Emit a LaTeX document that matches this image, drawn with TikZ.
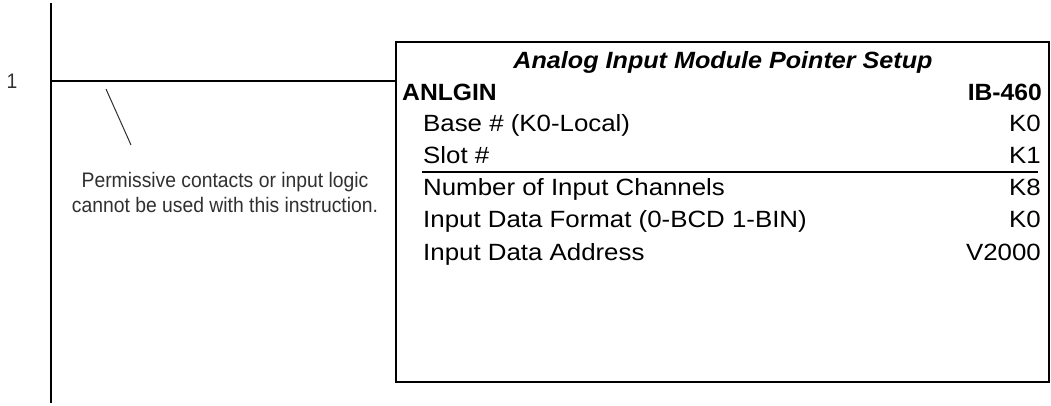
\documentclass[tikz,border=0pt]{standalone}
\usepackage{fontspec}
\setmainfont{Liberation Sans}
\newfontfamily\boxfont[FakeStretch=1.1]{Liberation Sans}
\newfontfamily\boldboxfont[FakeStretch=1.05]{Liberation Sans}
\newfontfamily\titlefont[FakeStretch=1.07]{Liberation Sans}
\newfontfamily\notefont[FakeStretch=0.92]{Liberation Sans}
\definecolor{notegray}{HTML}{303030}
\begin{document}
\begin{tikzpicture}[x=1pt,y=-1pt,
  rail/.style={line width=2pt, black},
  rowtext/.style={anchor=base west, inner sep=0pt, font=\boxfont\fontsize{23.5}{28}\selectfont},
  valtext/.style={anchor=base east, inner sep=0pt, font=\boxfont\fontsize{23.5}{28}\selectfont},
  headtext/.style={inner sep=0pt, font=\boldboxfont\bfseries\fontsize{23.5}{28}\selectfont},
  notetext/.style={inner sep=0pt, align=center, text=notegray, font=\notefont\fontsize{21}{25}\selectfont}]
\useasboundingbox (0,0) rectangle (1051,405);
% power rail
\coordinate (railtop) at (51,3);
\coordinate (railbot) at (51,403);
\draw[rail] (railtop) -- (railbot);
\node[inner sep=0pt, font=\notefont\fontsize{21}{25}\selectfont, text=notegray] (rungnum) at (12,81) {1};
% instruction box
\node[draw, line width=2pt, minimum width=653pt, minimum height=340pt, anchor=north west, inner sep=0pt] (box) at (395,41) {};
\coordinate (rungstart) at (51,81);
\draw[rail] (rungstart) -- (rungstart -| box.west);
% texts in box
\node[anchor=base, inner sep=0pt, font=\titlefont\bfseries\itshape\fontsize{23.5}{28}\selectfont] (title) at (723,68) {Analog Input Module Pointer Setup};
\node[headtext, anchor=base west] (name) at (402,100) {ANLGIN};
\node[headtext, anchor=base east] (code) at (1042,100) {IB-460};
\node[rowtext] (l1) at (423,131.5) {Base \# (K0-Local)};
\node[valtext] (v1) at (1041,131.5) {K0};
\node[rowtext] (l2) at (423,163.5) {Slot \#};
\node[valtext] (v2) at (1041,163.5) {K1};
\coordinate (sepL) at (422,172);
\coordinate (sepR) at (1038,172);
\draw[line width=1.6pt] (sepL) -- (sepR);
\node[rowtext] (l3) at (423,195) {Number of Input Channels};
\node[valtext] (v3) at (1041,195) {K8};
\node[rowtext] (l4) at (423,227.5) {Input Data Format (0-BCD 1-BIN)};
\node[valtext] (v4) at (1041,227.5) {K0};
\node[rowtext] (l5) at (423,260) {Input Data Address};
\node[valtext] (v5) at (1041,260) {V2000};
% annotation
\node[notetext] (note) at (225,192) {Permissive contacts or input logic\\cannot be used with this instruction.};
\coordinate (ptrA) at (106,89);
\coordinate (ptrB) at (131,145);
\draw[line width=1pt, notegray] (ptrA) -- (ptrB);
\end{tikzpicture}
\end{document}
